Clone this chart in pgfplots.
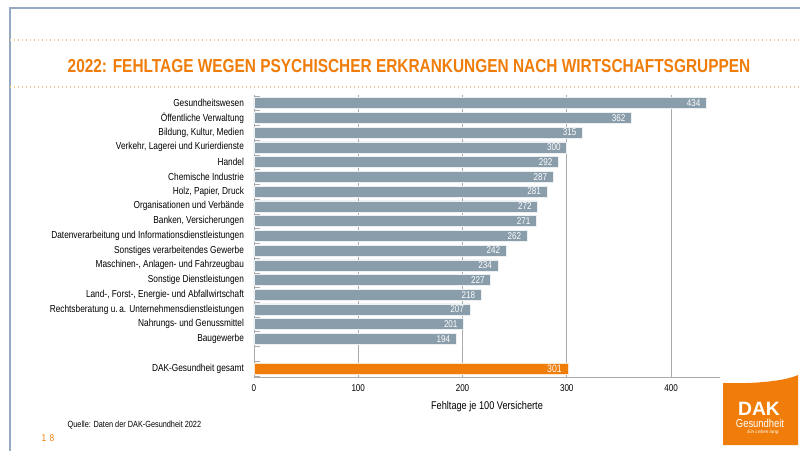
\documentclass[border=0pt]{standalone}
\usepackage{pgfplots}
\pgfplotsset{compat=1.18}
\usepackage{pgfplotstable}
\usepackage{fontspec}
\setmainfont{Liberation Sans}
\newfontfamily\narrow[FakeStretch=0.82]{Liberation Sans}
\definecolor{dakorange}{RGB}{240,125,10}
\definecolor{barblue}{RGB}{138,157,170}
\definecolor{framecol}{RGB}{150,170,195}
\definecolor{gridcol}{RGB}{170,170,170}

\pgfplotstableread{
pos val
0 434
1 362
2 315
3 300
4 292
5 287
6 281
7 272
8 271
9 262
10 242
11 234
12 227
13 218
14 207
15 201
16 194
}\branchen

\begin{document}
\begin{tikzpicture}[x=0.75pt,y=0.75pt]
% slide background and frame (pixel coordinates, y measured from bottom)
\useasboundingbox[fill=white] (0,0) rectangle (800,451);
\draw[framecol,line width=1pt] (10,0) -- (10,443) -- (800,443);
\draw[dakorange!45,dotted,line width=1pt] (10,411) -- (800,411);
\draw[dakorange!45,dotted,line width=1pt] (10,364) -- (800,364);
\node[text=dakorange,font=\narrow\bfseries\fontsize{14.1}{16}\selectfont] at (409,385) {2022: FEHLTAGE WEGEN PSYCHISCHER ERKRANKUNGEN NACH WIRTSCHAFTSGRUPPEN};

\begin{axis}[
    at={(190.5pt,55.5pt)},anchor=south west,
    scale only axis,
    width=349.5pt,height=211.5pt,
    xmin=0,xmax=447,
    ymin=-0.55,ymax=18.58,
    y dir=reverse,
    axis lines*=left,
    axis line style={gridcol},
    xtick={0,100,200,300,400},
    xmajorgrids,
    grid style={gridcol,line width=0.6pt},
    major x tick style={draw=none},
    ytick={-0.5,0.5,...,16.5,17.5,18.5},
    yticklabels={},
    major y tick style={gridcol},
    /pgf/number format/assume math mode=true,
    y tick label style={font=\narrow\fontsize{7.6}{8}\selectfont},
    x tick label style={font=\narrow\fontsize{7.4}{8}\selectfont,yshift=-2pt},
    extra y ticks={0,1,...,16,18},
    extra y tick labels={Gesundheitswesen,{Öffentliche Verwaltung},{Bildung, Kultur, Medien},{Verkehr, Lagerei und Kurierdienste},Handel,{Chemische Industrie},{Holz, Papier, Druck},{Organisationen und Verbände},{Banken, Versicherungen},{Datenverarbeitung und Informationsdienstleistungen},{Sonstiges verarbeitendes Gewerbe},{Maschinen-, Anlagen- und Fahrzeugbau},{Sonstige Dienstleistungen},{Land-, Forst-,  Energie- und Abfallwirtschaft},{Rechtsberatung u.\,a. Unternehmensdienstleistungen},{Nahrungs- und Genussmittel},Baugewerbe,{DAK-Gesundheit gesamt}},
    extra y tick style={major tick length=0pt,grid=none,yticklabel style={xshift=-4pt}},
    xlabel={Fehltage je 100 Versicherte},
    xlabel style={font=\narrow\fontsize{8.4}{9}\selectfont,yshift=-1pt},
    clip=false,
]
\addplot[xbar,bar width=8.25pt,fill=barblue,draw=white!85!barblue,line width=0.4pt,
    nodes near coords,point meta=x,
    every node near coord/.append style={anchor=east,text=white,font=\narrow\fontsize{7.4}{8}\selectfont,xshift=-1pt}]
    table[x=val,y=pos]{\branchen};
\addplot[xbar,bar width=8.25pt,fill=dakorange,draw=white!80!dakorange,line width=0.4pt,
    nodes near coords,point meta=x,
    every node near coord/.append style={anchor=east,text=white,font=\narrow\fontsize{8}{8}\selectfont,xshift=-1pt}]
    coordinates{(301,18)};
\end{axis}

% footer
\node[anchor=west,font=\narrow\fontsize{6.7}{7}\selectfont] at (63,26) {Quelle: Daten der DAK-Gesundheit 2022};
\node[anchor=west,text=dakorange,font=\narrow\fontsize{7.5}{9}\selectfont] at (37,13) {1\,\,8};
% logo
\fill[dakorange] (723,6) -- (723,68) .. controls (755,67) and (785,70) .. (798,76) -- (798,6) -- cycle;
\node[text=white,font=\bfseries\fontsize{14.5}{14.5}\selectfont,inner sep=0pt] at (759,42) {DAK};
\node[text=white,font=\narrow\fontsize{8.6}{9}\selectfont,inner sep=0pt] at (760,27.5) {Gesundheit};
\node[text=white,font=\itshape\fontsize{3.5}{4}\selectfont,inner sep=0pt] at (763,19) {Ein Leben lang};
\end{tikzpicture}
\end{document}
